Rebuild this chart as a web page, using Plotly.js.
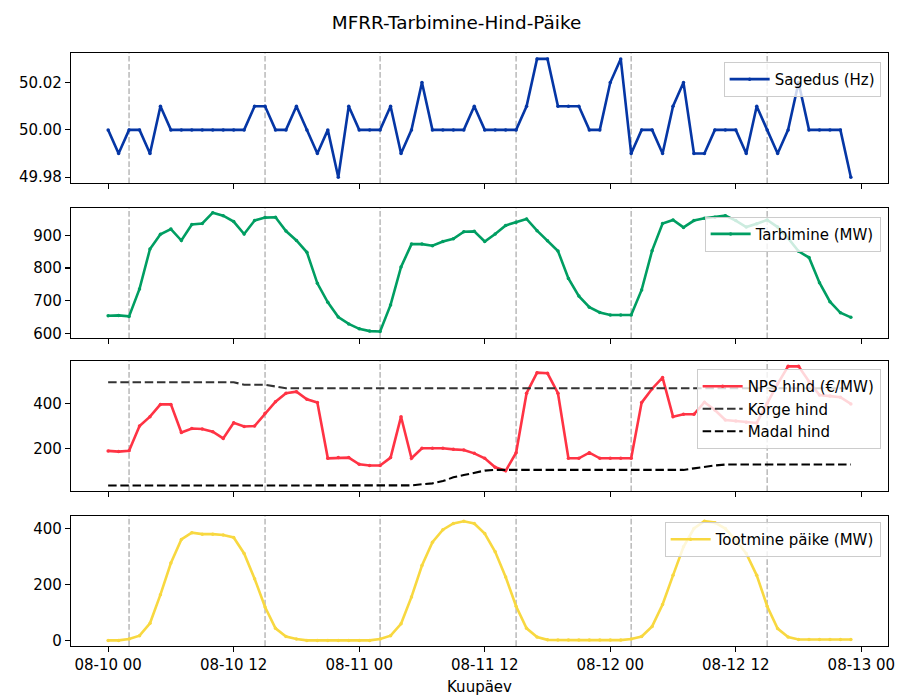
<!DOCTYPE html>
<html>
<head>
<meta charset="utf-8">
<script src="https://cdn.plot.ly/plotly-3.0.1.min.js"></script>
<style>html,body{margin:0;padding:0;background:#fff;}#chart{width:898px;height:696px;}</style>
</head>
<body>
<div id="chart"></div>
<script>
// ---- data (hourly, starting 2024-08-10 00:00) ----
const startTime = '2024-08-10 00:00';
const stepMs = 3600000;

const sagedus = [
  50.00,49.99,50.00,50.00,49.99,50.01,50.00,50.00,50.00,50.00,50.00,50.00,
  50.00,50.00,50.01,50.01,50.00,50.00,50.01,50.00,49.99,50.00,49.98,50.01,
  50.00,50.00,50.00,50.01,49.99,50.00,50.02,50.00,50.00,50.00,50.00,50.01,
  50.00,50.00,50.00,50.00,50.01,50.03,50.03,50.01,50.01,50.01,50.00,50.00,
  50.02,50.03,49.99,50.00,50.00,49.99,50.01,50.02,49.99,49.99,50.00,50.00,
  50.00,49.99,50.01,50.00,49.99,50.00,50.02,50.00,50.00,50.00,50.00,49.98
];
const tarbimine = [
  654,655,652,736,858,903,919,884,933,936,969,960,
  942,904,945,954,955,913,884,848,753,695,650,629,
  614,607,606,687,803,873,873,868,881,889,911,912,
  881,904,930,940,950,914,883,852,768,714,680,664,
  656,656,656,733,853,936,947,924,945,952,955,960,
  945,925,935,947,925,891,851,832,755,697,663,649
];
const npsHind = [
  190,187,191,301,343,398,398,272,290,288,276,246,
  316,299,301,358,410,448,455,421,406,157,160,160,
  130,125,125,160,343,157,202,202,202,197,194,179,
  157,117,101,182,448,540,537,448,157,157,182,157,
  157,157,157,406,468,518,343,354,354,408,373,328,
  324,318,315,403,490,568,568,500,440,435,430,400
];
const korgeHind = [
  497,497,497,497,497,497,497,497,497,497,497,497,
  497,486,486,486,478,470,470,470,470,470,470,470,
  470,470,470,470,470,470,470,470,470,470,470,470,
  470,470,470,470,470,470,470,470,470,470,470,470,
  470,470,470,470,470,470,470,470,470,470,470,470,
  470,470,470,470,470,470,470,470,470,470,470,470
];
const madalHind = [
  35,35,35,35,35,35,35,35,35,35,35,35,
  35,35,35,35,35,35,35,35,35,35,35,35,
  35,35,35,35,35,36,41,45,55,72,82,93,
  102,105,105,105,105,105,105,105,105,105,105,105,
  105,105,105,105,105,105,105,105,112,120,125,129,
  129,129,129,129,129,129,129,129,129,129,129,129
];
const paike = [
  1,1,6,18,62,164,277,361,385,380,380,377,
  368,311,221,120,44,15,6,1,1,1,1,1,
  1,1,6,18,60,156,268,351,396,418,426,418,
  382,317,227,123,44,13,3,2,2,2,2,2,
  2,2,6,15,51,129,233,335,400,426,421,400,
  358,311,233,123,43,13,4,4,4,4,4,4
];
const eventTimes = [
  '2024-08-10 02:00','2024-08-10 15:00',
  '2024-08-11 02:00','2024-08-11 15:00',
  '2024-08-12 02:00','2024-08-12 15:00'
];

// ---- styling ----
const FONT = 'DejaVu Sans, Liberation Sans, sans-serif';
const cBlue = '#0536a5', cGreen = '#009e62', cRed = '#ff3344', cYellow = '#f8d840';

function line(y, name, color, xa, ya, leg) {
  return {
    type: 'scatter', mode: 'lines+markers', x0: startTime, dx: stepMs, y: y,
    name: name, xaxis: xa, yaxis: ya, legend: leg,
    line: {color: color, width: 2.6},
    marker: {color: color, size: 3.5},
    hoverinfo: 'skip'
  };
}

const traces = [
  line(sagedus, 'Sagedus (Hz)', cBlue, 'x', 'y', 'legend'),
  line(tarbimine, 'Tarbimine (MW)', cGreen, 'x2', 'y2', 'legend2'),
  line(npsHind, 'NPS hind (€/MW)', cRed, 'x3', 'y3', 'legend3'),
  {type:'scatter', mode:'lines', x0:startTime, dx:stepMs, y:korgeHind, name:'Kõrge hind',
   xaxis:'x3', yaxis:'y3', legend:'legend3', line:{color:'#333333', width:2.1, dash:'8.5px,3.7px'}, hoverinfo:'skip'},
  {type:'scatter', mode:'lines', x0:startTime, dx:stepMs, y:madalHind, name:'Madal hind',
   xaxis:'x3', yaxis:'y3', legend:'legend3', line:{color:'#000000', width:2.1, dash:'8.5px,3.7px'}, hoverinfo:'skip'},
  line(paike, 'Tootmine päike (MW)', cYellow, 'x4', 'y4', 'legend4')
];

const xRange = ['2024-08-09 20:27', '2024-08-13 02:33'];
function xAxis(anchor, labels) {
  return {
    type: 'date', range: xRange, anchor: anchor,
    tick0: '2024-08-10 00:00', dtick: 43200000, tickformat: '%m-%d %H',
    showticklabels: labels, ticks: 'outside', ticklen: 5, tickwidth: 1.1, tickcolor: '#000',
    showline: true, mirror: true, linecolor: '#000', linewidth: 1.1,
    showgrid: false, zeroline: false,
    tickfont: {family: FONT, size: 15, color: '#000'}
  };
}
function yAxis(anchor, domain, range, tickvals, fmt) {
  return {
    anchor: anchor, domain: domain, range: range, tickvals: tickvals, tickformat: fmt,
    ticks: 'outside', ticklen: 5, tickwidth: 1.1, tickcolor: '#000',
    showline: true, mirror: true, linecolor: '#000', linewidth: 1.1,
    showgrid: false, zeroline: false,
    tickfont: {family: FONT, size: 15, color: '#000'}
  };
}

const shapes = [];
[['x','y'],['x2','y2'],['x3','y3'],['x4','y4']].forEach(function(p){
  eventTimes.forEach(function(t){
    shapes.push({type:'line', xref:p[0], yref:p[1]+' domain', x0:t, x1:t, y0:0, y1:1,
      layer:'below', line:{color:'rgba(128,128,128,0.55)', width:1.5, dash:'5.7px,2.4px'}});
  });
});

function legendAt(y) {
  return {x: 0.991, y: y, xanchor: 'right', yanchor: 'top', xref: 'paper', yref: 'paper',
    bgcolor: 'rgba(255,255,255,0.8)', bordercolor: '#cccccc', borderwidth: 1,
    font: {family: FONT, size: 15, color: '#000'}, itemwidth: 40, tracegroupgap: 0};
}

const xa4 = xAxis('y4', true);
xa4.title = {text: 'Kuupäev', font: {family: FONT, size: 15, color: '#000'}, standoff: 8};

const layout = {
  width: 898, height: 696,
  margin: {l: 70.7, r: 10.3, t: 53.3, b: 50.3, pad: 0},
  paper_bgcolor: '#fff', plot_bgcolor: '#fff',
  font: {family: FONT, size: 15, color: '#000'},
  title: {text: 'MFRR-Tarbimine-Hind-Päike', xref: 'container', yref: 'container',
          x: 0.5084, xanchor: 'center', y: 1 - 23/696, yanchor: 'middle',
          font: {family: FONT, size: 18.4, color: '#000'}},
  showlegend: true,
  xaxis: xAxis('y', false),
  xaxis2: xAxis('y2', false),
  xaxis3: xAxis('y3', false),
  xaxis4: xa4,
  yaxis: yAxis('x', [0.7806, 1.0], [49.9775, 50.0325], [49.98, 50.00, 50.02], '.2f'),
  yaxis2: yAxis('x2', [0.5189, 0.7384], [585, 983], [600, 700, 800, 900], 'd'),
  yaxis3: yAxis('x3', [0.2611, 0.4806], [10, 592], [200, 400], 'd'),
  yaxis4: yAxis('x4', [0.0, 0.2194], [-19, 445], [0, 200, 400], 'd'),
  legend: legendAt(0.985),
  legend2: legendAt(0.724),
  legend3: legendAt(0.467),
  legend4: legendAt(0.209),
  shapes: shapes,
  hovermode: false
};

Plotly.newPlot('chart', traces, layout, {displayModeBar: false, staticPlot: true});
</script>
</body>
</html>
